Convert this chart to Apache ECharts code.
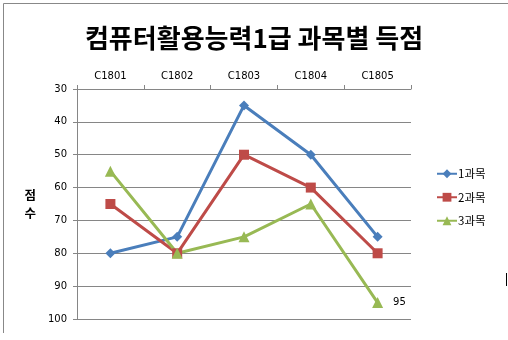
<!DOCTYPE html>
<html><head><meta charset="utf-8">
<script src="https://cdn.jsdelivr.net/npm/echarts@6/dist/echarts.min.js"></script>
<style>html,body{margin:0;padding:0;background:#fff}#c{width:508px;height:340px}</style>
</head><body><div id="c"></div>
<script>
var categories = ['C1801','C1802','C1803','C1804','C1805'];
var seriesNames = ['1과목','2과목','3과목'];
var s1 = [80, 75, 35, 50, 75];
var s2 = [65, 80, 50, 60, 80];
var s3 = [55, 80, 75, 65, 95];
var yTicks = [30, 100, 10];

var colors = ['#4a7ebb', '#be4b48', '#98b954'];
var chart = echarts.init(document.getElementById('c'));
var numFont = 'DejaVu Sans';
var krFont = '"Noto Sans CJK KR", sans-serif';
chart.setOption({
  animation: false,
  backgroundColor: '#fff',
  title: {
    text: '컴퓨터활용능력1급 과목별 득점',
    left: 'center', top: 20,
    textStyle: { fontFamily: krFont, fontSize: 26, fontWeight: 'bold', color: '#000' }
  },
  graphic: [
    { type: 'line', shape: { x1: 3.5, y1: 3.5, x2: 508, y2: 3.5 }, style: { stroke: '#888', lineWidth: 1 } },
    { type: 'line', shape: { x1: 3.5, y1: 3.5, x2: 3.5, y2: 333 }, style: { stroke: '#888', lineWidth: 1 } },
    { type: 'line', shape: { x1: 506.5, y1: 273, x2: 506.5, y2: 286 }, style: { stroke: '#000', lineWidth: 1 } }
  ],
  legend: {
    orient: 'vertical', left: 431, top: 163, itemGap: 12,
    itemWidth: 20, itemHeight: 11,
    textStyle: { fontFamily: krFont, fontSize: 11.5, color: '#000', padding: [0,0,0,-4] },
    data: seriesNames
  },
  grid: { left: 77, right: 97, top: 89, bottom: 21 },
  xAxis: {
    type: 'category', position: 'top', data: categories, boundaryGap: true,
    axisLine: { lineStyle: { color: '#868686' } },
    axisTick: { show: true, length: 4, lineStyle: { color: '#868686' } },
    axisLabel: { fontFamily: numFont, fontSize: 10, color: '#000', margin: 8 },
    splitLine: { show: false }
  },
  yAxis: {
    type: 'value', inverse: true, min: yTicks[0], max: yTicks[1], interval: yTicks[2],
    name: '점\n수', nameLocation: 'middle', nameGap: 41, nameRotate: 0,
    nameTextStyle: { fontFamily: krFont, fontSize: 12.5, fontWeight: 'bold', color: '#000', lineHeight: 18 },
    axisLine: { show: true, lineStyle: { color: '#868686' } },
    axisTick: { show: true, length: 4, lineStyle: { color: '#868686' } },
    axisLabel: { fontFamily: numFont, fontSize: 10, color: '#000', margin: 10 },
    splitLine: { show: true, lineStyle: { color: '#868686', width: 1 } }
  },
  series: [
    { name: seriesNames[0], type: 'line', data: s1, symbol: 'diamond', symbolSize: 10,
      lineStyle: { width: 3, color: colors[0] }, itemStyle: { color: colors[0] } },
    { name: seriesNames[1], type: 'line', data: s2, symbol: 'rect', symbolSize: 10,
      lineStyle: { width: 3, color: colors[1] }, itemStyle: { color: colors[1] } },
    { name: seriesNames[2], type: 'line', data: s3, symbol: 'triangle', symbolSize: 11,
      lineStyle: { width: 3, color: colors[2] }, itemStyle: { color: colors[2] },
      label: { show: true, position: 'right', distance: 10, fontFamily: numFont, fontSize: 10, color: '#000',
        formatter: function (p) { return p.dataIndex === s3.length - 1 ? String(p.value) : ''; } } }
  ]
});
</script></body></html>
